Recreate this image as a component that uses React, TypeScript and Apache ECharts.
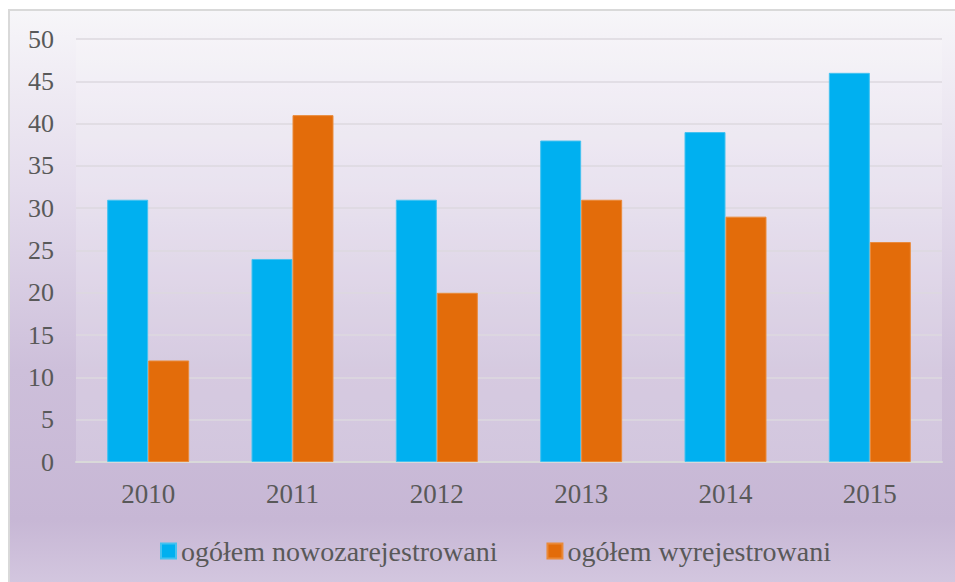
import React, { useEffect, useRef } from "react";
import * as echarts from "echarts";

const years = ["2010", "2011", "2012", "2013", "2014", "2015"];
const registered = [31, 24, 31, 38, 39, 46];
const deregistered = [12, 41, 20, 31, 29, 26];
const seriesNames = ["ogółem nowozarejestrowani", "ogółem wyrejestrowani"];

export default function App() {
  const ref = useRef<HTMLDivElement>(null);
  useEffect(() => {
    const chart = echarts.init(ref.current!, undefined, { renderer: "svg" });
    const font = "Liberation Serif";
    chart.setOption({
      animation: false,
      backgroundColor: "#ffffff",
      textStyle: { fontFamily: font },
      graphic: [
        {
          type: "rect",
          z: -100,
          shape: { x: 9, y: 10, width: 960, height: 600 },
          style: {
            fill: {
              type: "linear",
              x: 0, y: 0, x2: 0, y2: 1,
              colorStops: [
                { offset: 0, color: "#f7f6f9" },
                { offset: 0.3, color: "#e4dcec" },
                { offset: 0.6, color: "#cdbfda" },
                { offset: 0.85, color: "#c7b7d5" },
                { offset: 1, color: "#d8cde3" },
              ],
            },
            stroke: "#d9d9d9",
            lineWidth: 2,
          },
        },
      ],
      grid: {
        left: 76,
        right: 13,
        top: 39,
        bottom: 120,
        show: true,
        backgroundColor: "rgba(255,255,255,0.18)",
        borderWidth: 0,
      },
      legend: {
        top: 537,
        left: 160,
        padding: 0,
        itemWidth: 15,
        itemHeight: 15,
        itemGap: 49,
        icon: "rect",
        textStyle: { fontFamily: font, fontSize: 28, color: "#595959" },
        data: seriesNames,
      },
      xAxis: {
        type: "category",
        data: years,
        axisLine: { show: true, lineStyle: { color: "#d9d9d9", width: 2 } },
        axisTick: { show: false },
        axisLabel: { fontFamily: font, fontSize: 27, color: "#595959", margin: 18 },
      },
      yAxis: {
        type: "value",
        min: 0,
        max: 50,
        interval: 5,
        axisLine: { show: false },
        axisTick: { show: false },
        splitLine: { lineStyle: { color: "#dcd8df", width: 1.5 } },
        axisLabel: { fontFamily: font, fontSize: 26, color: "#595959", margin: 22 },
      },
      series: [
        {
          name: seriesNames[0],
          type: "bar",
          data: registered,
          barWidth: "28.4%",
          barGap: "0%",
          itemStyle: { color: "#00b0f0", borderColor: "#45c2f0", borderWidth: 1 },
        },
        {
          name: seriesNames[1],
          type: "bar",
          data: deregistered,
          barWidth: "28.4%",
          barGap: "0%",
          itemStyle: { color: "#e36c0a", borderColor: "#ea8a3a", borderWidth: 1 },
        },
      ],
    });
    return () => chart.dispose();
  }, []);
  return (
    <div
      ref={ref}
      style={{ position: "fixed", left: 0, top: 0, width: 955, height: 582 }}
    />
  );
}
